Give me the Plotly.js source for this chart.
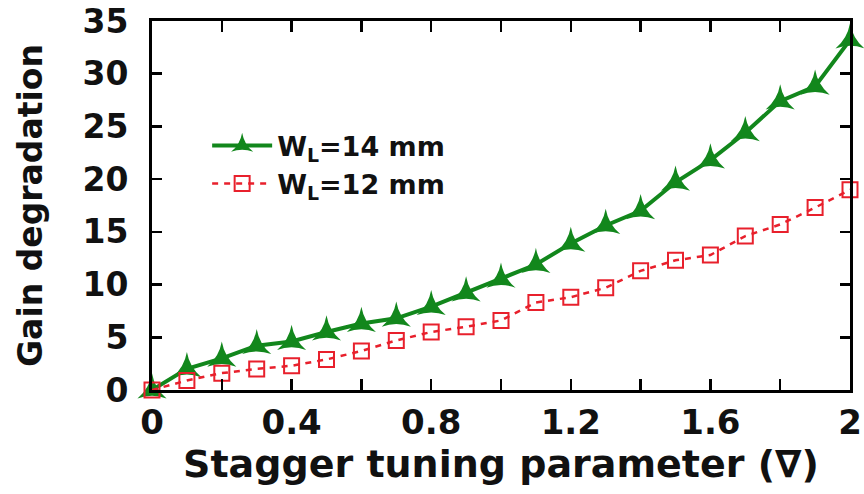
<!DOCTYPE html>
<html>
<head>
<meta charset="utf-8">
<script src="https://cdn.plot.ly/plotly-3.0.1.min.js"></script>
<style>html,body{margin:0;padding:0;background:#fff;}#chart{width:864px;height:494px;}</style>
</head>
<body>
<div id="chart"></div>
<script>
const xValues = [0, 0.1, 0.2, 0.3, 0.4, 0.5, 0.6, 0.7, 0.8, 0.9, 1.0, 1.1, 1.2, 1.3, 1.4, 1.5, 1.6, 1.7, 1.8, 1.9, 2.0];
const gainWL14 = [0, 2.0, 3.0, 4.2, 4.6, 5.5, 6.3, 6.8, 7.9, 9.2, 10.5, 11.9, 13.9, 15.6, 17.0, 19.7, 21.8, 24.4, 27.4, 28.8, 33.2];
const gainWL12 = [0, 0.9, 1.6, 2.0, 2.3, 2.9, 3.7, 4.7, 5.5, 6.0, 6.6, 8.3, 8.8, 9.7, 11.3, 12.3, 12.8, 14.6, 15.7, 17.3, 19.0];
const seriesNames = ['<b>W<sub>L</sub>=14 mm</b>', '<b>W<sub>L</sub>=12 mm</b>'];
const xTickVals = [0, 0.2, 0.4, 0.6, 0.8, 1.0, 1.2, 1.4, 1.6, 1.8, 2.0];
const xTickText = ['0', ' ', '0.4', ' ', '0.8', ' ', '1.2', ' ', '1.6', ' ', '2'];
const yTickVals = [0, 5, 10, 15, 20, 25, 30, 35];
const xTitle = '<b>Stagger tuning parameter (∇)</b>';
const yTitle = '<b>Gain degradation</b>';

const FONT = 'DejaVu Sans, Liberation Sans, Arial, sans-serif';

const traces = [
  {
    x: xValues, y: gainWL14, name: seriesNames[0], type: 'scatter', mode: 'lines+markers',
    line: {color: '#12871c', width: 4},
    marker: {symbol: 'star-triangle-up', size: 21, color: '#12871c', line: {width: 0}},
    cliponaxis: false
  },
  {
    x: xValues, y: gainWL12, name: seriesNames[1], type: 'scatter', mode: 'lines+markers',
    line: {color: '#e8202c', width: 2.5, dash: '6px,6px'},
    marker: {symbol: 'square-open', size: 15, color: '#e8202c', line: {width: 2}},
    cliponaxis: false
  }
];

const layout = {
  width: 864, height: 494,
  margin: {l: 152, r: 14, t: 21, b: 104},
  paper_bgcolor: '#fff', plot_bgcolor: '#fff',
  font: {family: FONT, color: '#111', size: 20},
  showlegend: true,
  legend: {
    x: 0.079, y: 0.61, xanchor: 'left', yanchor: 'middle',
    bgcolor: 'rgba(0,0,0,0)', font: {family: FONT, size: 27, color: '#111'},
    tracegroupgap: 0, itemwidth: 60
  },
  xaxis: {
    range: [0, 2], tickmode: 'array', tickvals: xTickVals, ticktext: xTickText,
    ticks: 'inside', ticklen: 11, tickwidth: 2.5, tickcolor: '#000',
    showline: true, linewidth: 3, linecolor: '#000', mirror: 'ticks',
    showgrid: false, zeroline: false,
    tickfont: {family: FONT, size: 34, color: '#111', weight: 'bold'},
    title: {text: xTitle, font: {family: FONT, size: 38, color: '#111'}, standoff: 4}
  },
  yaxis: {
    range: [0, 35], tickmode: 'array', tickvals: yTickVals,
    ticks: 'inside', ticklen: 10, tickwidth: 2.5, tickcolor: '#000',
    showline: true, linewidth: 3, linecolor: '#000', mirror: 'ticks',
    showgrid: false, zeroline: false,
    tickfont: {family: FONT, size: 33, color: '#111', weight: 'bold'},
    ticklabelstandoff: 14,
    title: {text: yTitle, font: {family: FONT, size: 33, color: '#111'}, standoff: 30}
  }
};

Plotly.newPlot('chart', traces, layout, {displayModeBar: false, staticPlot: true});
</script>
</body>
</html>
